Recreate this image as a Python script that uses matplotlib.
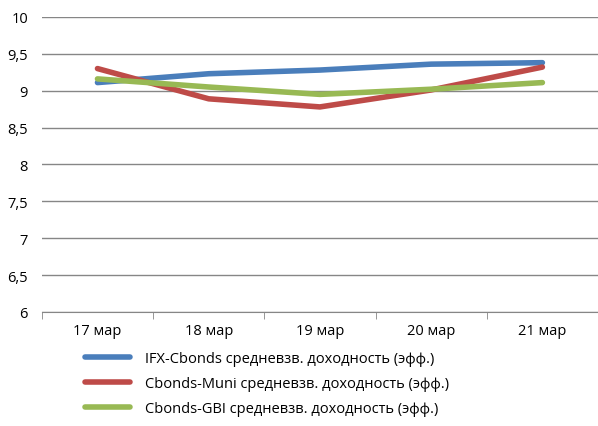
import matplotlib.pyplot as plt
from matplotlib.ticker import FixedLocator, FuncFormatter

# данные
dates = ['17 мар', '18 мар', '19 мар', '20 мар', '21 мар']
ifx_cbonds = [9.11, 9.23, 9.28, 9.36, 9.38]
cbonds_muni = [9.30, 8.89, 8.78, 9.01, 9.32]
cbonds_gbi = [9.16, 9.05, 8.95, 9.02, 9.11]
series_names = ['IFX-Cbonds средневзв. доходность (эфф.)',
                'Cbonds-Muni средневзв. доходность (эфф.)',
                'Cbonds-GBI средневзв. доходность (эфф.)']
y_ticks = [6, 6.5, 7, 7.5, 8, 8.5, 9, 9.5, 10]

plt.rcParams['font.family'] = ['Open Sans', 'DejaVu Sans']

fig = plt.figure(figsize=(5.98, 4.27), dpi=100)
ax = fig.add_axes([0.07, 0.267, 0.93, 0.691])

colors = ['#4A7EBB', '#BE4B48', '#98B954']
x = range(len(dates))
for vals, name, c in zip([ifx_cbonds, cbonds_muni, cbonds_gbi], series_names, colors):
    ax.plot(x, vals, color=c, linewidth=4, solid_capstyle='round', label=name)

ax.set_xlim(-0.5, len(dates) - 0.5)
ax.set_ylim(6, 10)
ax.set_yticks(y_ticks)
ax.yaxis.set_major_formatter(FuncFormatter(lambda v, p: f'{v:g}'.replace('.', ',')))
ax.set_xticks(list(x))
ax.set_xticklabels(dates)
ax.xaxis.set_minor_locator(FixedLocator([i - 0.5 for i in range(len(dates) + 1)]))

ax.grid(axis='y', color='#868686', linewidth=1)
ax.set_axisbelow(True)
for s in ['top', 'right', 'left']:
    ax.spines[s].set_visible(False)
ax.spines['bottom'].set_color('#868686')
ax.tick_params(axis='y', length=0, labelsize=10.5, pad=10)
ax.tick_params(axis='x', which='major', length=0, labelsize=10.5, pad=8)
ax.tick_params(axis='x', which='minor', length=5, color='#868686')

# легенда под графиком
fig.legend(loc='upper left', bbox_to_anchor=(0.142, 0.176), frameon=False,
           borderpad=0, borderaxespad=0,
           fontsize=10.5, handlelength=3.1, handletextpad=1.0, labelspacing=0.7)

fig.savefig('out.png', dpi=100)
